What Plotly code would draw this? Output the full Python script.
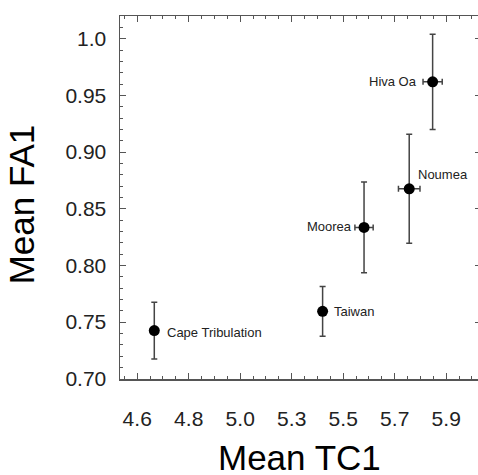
import plotly.graph_objects as go

# ---- data ----
sites = ["Cape Tribulation", "Taiwan", "Moorea", "Noumea", "Hiva Oa"]
mean_tc1 = [4.673, 5.392, 5.569, 5.762, 5.862]
mean_fa1 = [0.7425, 0.7595, 0.8335, 0.8676, 0.9619]
err_tc1 = [0.0, 0.0, 0.039, 0.046, 0.041]
err_fa1 = [0.025, 0.022, 0.040, 0.048, 0.042]

x_tick_values = [4.60, 4.82, 5.04, 5.26, 5.48, 5.70, 5.92]
x_tick_labels = ["4.6", "4.8", "5.0", "5.3", "5.5", "5.7", "5.9"]
y_tick_values = [0.70, 0.75, 0.80, 0.85, 0.90, 0.95, 1.00]
y_tick_labels = ["0.70", "0.75", "0.80", "0.85", "0.90", "0.95", "1.0"]

# label placement (pixel offsets) and anchors
label_side = ["right", "right", "left", "right", "left"]
label_dx = [11, 9, -10, 7, -14]
label_dy = [-2, 0, 1, 14, 0]

FONT = "Arial, Liberation Sans, sans-serif"
AX = "#555555"

fig = go.Figure()
fig.add_trace(go.Scatter(
    x=mean_tc1, y=mean_fa1, mode="markers",
    marker=dict(color="black", size=11),
    error_y=dict(type="data", array=err_fa1, color="#444444", thickness=1.5, width=3),
    error_x=dict(type="data", array=err_tc1, color="#444444", thickness=1.5, width=3),
    showlegend=False, hoverinfo="skip",
))
fig.add_trace(go.Scatter(x=[], y=[], yaxis="y2", showlegend=False))

for s, x, y, side, dx, dy in zip(sites, mean_tc1, mean_fa1, label_side, label_dx, label_dy):
    fig.add_annotation(
        x=x, y=y, xref="x", yref="y", text=s, showarrow=False,
        xanchor="left" if side == "right" else "right", yanchor="middle",
        xshift=dx, yshift=dy,
        font=dict(family=FONT, size=13, color="#222222"),
    )

fig.add_annotation(x=0.5, y=-0.215, xref="paper", yref="paper", text="Mean TC1",
                   showarrow=False, xanchor="center", yanchor="middle",
                   font=dict(family=FONT, size=35, color="black"))
fig.add_annotation(x=-0.275, y=0.48, xref="paper", yref="paper", text="Mean FA1",
                   showarrow=False, xanchor="center", yanchor="middle", textangle=-90,
                   font=dict(family=FONT, size=35, color="black"))

minor_common = dict(ticks="inside", ticklen=3, tickcolor=AX, tickwidth=1)

fig.update_layout(
    width=478, height=475,
    margin=dict(l=120, r=0, t=16, b=95.5),
    paper_bgcolor="white", plot_bgcolor="white",
    font=dict(family=FONT, color="#222222"),
    xaxis=dict(
        range=[4.5265, 6.0558], showgrid=False, zeroline=False,
        showline=True, linecolor=AX, linewidth=1.5, mirror="ticks",
        ticks="inside", ticklen=6, tickcolor=AX, tickwidth=1,
        tickmode="array", tickvals=x_tick_values, ticktext=x_tick_labels,
        tickfont=dict(family=FONT, size=21, color="#222222"),
        ticklabelstandoff=20,
        minor=dict(tick0=4.60, dtick=0.055, **minor_common),
    ),
    yaxis=dict(
        range=[0.6998, 1.02], showgrid=False, zeroline=False,
        showline=True, linecolor=AX, linewidth=1.5, mirror=False,
        ticks="inside", ticklen=6, tickcolor=AX, tickwidth=1,
        tickmode="array", tickvals=y_tick_values, ticktext=y_tick_labels,
        tickfont=dict(family=FONT, size=21, color="#222222"),
        ticklabelstandoff=8,
        minor=dict(tick0=0.70, dtick=0.01, **minor_common),
    ),
    yaxis2=dict(
        overlaying="y", side="right", range=[0.6998, 1.02],
        showgrid=False, zeroline=False, showline=False,
        ticks="inside", ticklen=3, tickcolor=AX, tickwidth=1,
        tickmode="array", tickvals=y_tick_values, showticklabels=False,
    ),
)

fig.write_html(
    "out.html",
    config={"displayModeBar": False, "staticPlot": True},
    post_script="document.body.style.margin='0';document.documentElement.style.overflow='hidden';",
)
